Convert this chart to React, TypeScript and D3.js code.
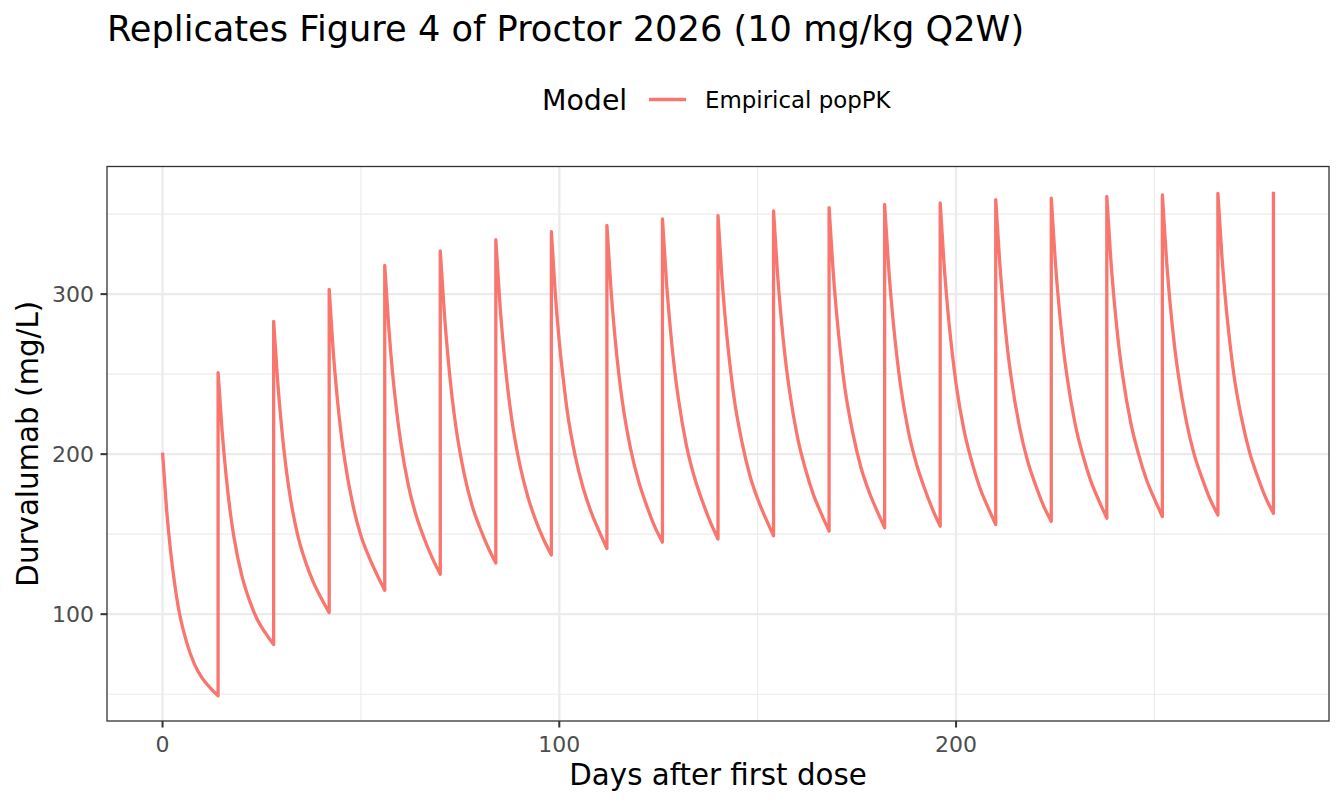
import * as React from 'react';
import {useEffect, useRef} from 'react';
import * as d3 from 'd3';

const width = 1344;
const height = 806;
const margin = {top: 166.5, right: 15, bottom: 85, left: 107};

const sampleOffsets = [0, 1, 2, 3, 4, 6, 8, 10, 12, 14];
const doseDays = [0, 14, 28, 42, 56, 70, 84, 98, 112, 126, 140, 154, 168, 182, 196, 210, 224, 238, 252, 266];

// concentration (mg/L) over each dosing interval, at sampleOffsets
const cycle01 = [201, 166, 140, 120, 104, 83, 69, 60, 54, 49];
const cycle02 = [251, 215, 187, 165, 148, 124, 108, 96, 88, 81];
const cycle03 = [283, 246, 217, 194, 176, 150, 133, 120, 110, 101];
const cycle04 = [303, 265, 236, 213, 195, 168, 149, 136, 125, 115];
const cycle05 = [318, 280, 250, 227, 208, 180, 161, 147, 135, 125];
const cycle06 = [327, 289, 259, 235, 216, 188, 168, 154, 142, 132];
const cycle07 = [334, 295, 265, 241, 222, 194, 174, 159, 147, 137];
const cycle08 = [339, 300, 270, 247, 227, 199, 179, 164, 152, 141];
const cycle09 = [343, 304, 274, 250, 231, 203, 183, 168, 155, 145];
const cycle10 = [347, 308, 278, 254, 235, 206, 186, 171, 158, 147];
const cycle11 = [349, 310, 280, 256, 236, 208, 187, 172, 160, 149];
const cycle12 = [352, 313, 283, 259, 240, 211, 191, 175, 163, 152];
const cycle13 = [354, 315, 285, 261, 241, 213, 192, 177, 165, 154];
const cycle14 = [356, 317, 287, 263, 243, 214, 194, 179, 166, 155];
const cycle15 = [357, 318, 288, 264, 244, 215, 195, 179, 167, 156];
const cycle16 = [359, 320, 290, 265, 246, 217, 196, 181, 168, 158];
const cycle17 = [360, 321, 291, 267, 248, 219, 199, 183, 171, 160];
const cycle18 = [361, 322, 292, 268, 249, 220, 200, 184, 172, 161];
const cycle19 = [362, 323, 293, 269, 250, 221, 200, 185, 172, 162];
const cycle20 = [363, 324, 294, 270, 250, 222, 201, 186, 173, 163];
const cycles = [cycle01, cycle02, cycle03, cycle04, cycle05, cycle06, cycle07, cycle08, cycle09, cycle10,
  cycle11, cycle12, cycle13, cycle14, cycle15, cycle16, cycle17, cycle18, cycle19, cycle20];

// the simulation stops right at the dose on day 280
const lastDose = {day: 280, conc: 364};

const xMajor = [0, 100, 200];
const xMinor = [50, 150, 250];
const yMajor = [100, 200, 300];
const yMinor = [50, 150, 250, 350];

const lineColor = '#F8766D';
const font = '"DejaVu Sans", sans-serif';

export default function App() {
  const ref = useRef<SVGSVGElement>(null);

  useEffect(() => {
    const svg = d3.select(ref.current);
    svg.selectAll('*').remove();

    const x0 = margin.left, x1 = width - margin.right;
    const y0 = height - margin.bottom, y1 = margin.top;

    // ggplot style 5% expansion of the data range
    const allConc = cycles.flat().concat([lastDose.conc]);
    const cMin = d3.min(allConc)!, cMax = d3.max(allConc)!;
    const cPad = (cMax - cMin) * 0.05;
    const dPad = lastDose.day * 0.05;

    const x = d3.scaleLinear().domain([-dPad, lastDose.day + dPad]).range([x0, x1]);
    const y = d3.scaleLinear().domain([cMin - cPad, cMax + cPad]).range([y0, y1]);

    svg.append('rect')
      .attr('width', width).attr('height', height).attr('fill', 'white');

    const grid = svg.append('g');
    grid.selectAll('.xminor').data(xMinor).join('line')
      .attr('x1', d => x(d)).attr('x2', d => x(d)).attr('y1', y0).attr('y2', y1)
      .attr('stroke', '#EBEBEB').attr('stroke-width', 1.1);
    grid.selectAll('.yminor').data(yMinor).join('line')
      .attr('y1', d => y(d)).attr('y2', d => y(d)).attr('x1', x0).attr('x2', x1)
      .attr('stroke', '#EBEBEB').attr('stroke-width', 1.1);
    grid.selectAll('.xmajor').data(xMajor).join('line')
      .attr('x1', d => x(d)).attr('x2', d => x(d)).attr('y1', y0).attr('y2', y1)
      .attr('stroke', '#EBEBEB').attr('stroke-width', 2.3);
    grid.selectAll('.ymajor').data(yMajor).join('line')
      .attr('y1', d => y(d)).attr('y2', d => y(d)).attr('x1', x0).attr('x2', x1)
      .attr('stroke', '#EBEBEB').attr('stroke-width', 2.3);

    // one continuous path: each interval is a smooth decay, joined by vertical dose jumps
    const line = d3.line<number[]>()
      .x(d => x(d[0]))
      .y(d => y(d[1]))
      .curve(d3.curveMonotoneX);

    const segs = cycles.map((conc, i) => {
      const pts = sampleOffsets.map((t, j) => [doseDays[i] + t, conc[j]]);
      const s = line(pts)!;
      return i === 0 ? s : s.replace(/^M/, 'L');
    });
    const pathD = segs.join('') + `L${x(lastDose.day)},${y(lastDose.conc)}`;

    svg.append('path')
      .attr('d', pathD)
      .attr('fill', 'none')
      .attr('stroke', lineColor)
      .attr('stroke-width', 3.3)
      .attr('stroke-linejoin', 'round')
      .attr('stroke-linecap', 'butt');

    svg.append('rect')
      .attr('x', x0).attr('y', y1).attr('width', x1 - x0).attr('height', y0 - y1)
      .attr('fill', 'none').attr('stroke', '#333333').attr('stroke-width', 1.3);

    // axes
    const axes = svg.append('g').style('font-family', font);
    axes.selectAll('.xtick').data(xMajor).join('line')
      .attr('x1', d => x(d)).attr('x2', d => x(d)).attr('y1', y0).attr('y2', y0 + 6.5)
      .attr('stroke', '#333333').attr('stroke-width', 2);
    axes.selectAll('.xlab').data(xMajor).join('text')
      .attr('x', d => x(d)).attr('y', 752)
      .attr('text-anchor', 'middle')
      .attr('font-size', 22).attr('fill', '#4D4D4D')
      .text(d => d);
    axes.selectAll('.ytick').data(yMajor).join('line')
      .attr('x1', x0 - 6.5).attr('x2', x0).attr('y1', d => y(d)).attr('y2', d => y(d))
      .attr('stroke', '#333333').attr('stroke-width', 2);
    axes.selectAll('.ylab').data(yMajor).join('text')
      .attr('x', 94).attr('y', d => y(d)).attr('dy', '0.36em')
      .attr('text-anchor', 'end')
      .attr('font-size', 22).attr('fill', '#4D4D4D')
      .text(d => d);

    axes.append('text')
      .attr('x', (x0 + x1) / 2).attr('y', 784.5)
      .attr('text-anchor', 'middle')
      .attr('font-size', 29.3).attr('fill', 'black')
      .text('Days after first dose');
    axes.append('text')
      .attr('transform', `translate(37.5,${(y0 + y1) / 2}) rotate(-90)`)
      .attr('text-anchor', 'middle')
      .attr('font-size', 29.3).attr('fill', 'black')
      .text('Durvalumab (mg/L)');

    // title and legend
    svg.append('text')
      .attr('x', x0).attr('y', 40.5)
      .style('font-family', font)
      .attr('font-size', 35.2).attr('fill', 'black')
      .text('Replicates Figure 4 of Proctor 2026 (10 mg/kg Q2W)');

    const legend = svg.append('g').style('font-family', font);
    legend.append('text')
      .attr('x', 542).attr('y', 109.5)
      .attr('font-size', 28.4).attr('fill', 'black')
      .text('Model');
    legend.append('line')
      .attr('x1', 649).attr('x2', 686).attr('y1', 99.5).attr('y2', 99.5)
      .attr('stroke', lineColor).attr('stroke-width', 3.3);
    legend.append('text')
      .attr('x', 705).attr('y', 107.5)
      .attr('font-size', 22.9).attr('fill', 'black')
      .text('Empirical popPK');
  }, []);

  return (
    <svg ref={ref} width={width} height={height}
      style={{position: 'absolute', left: 0, top: 0, display: 'block'}} />
  );
}
